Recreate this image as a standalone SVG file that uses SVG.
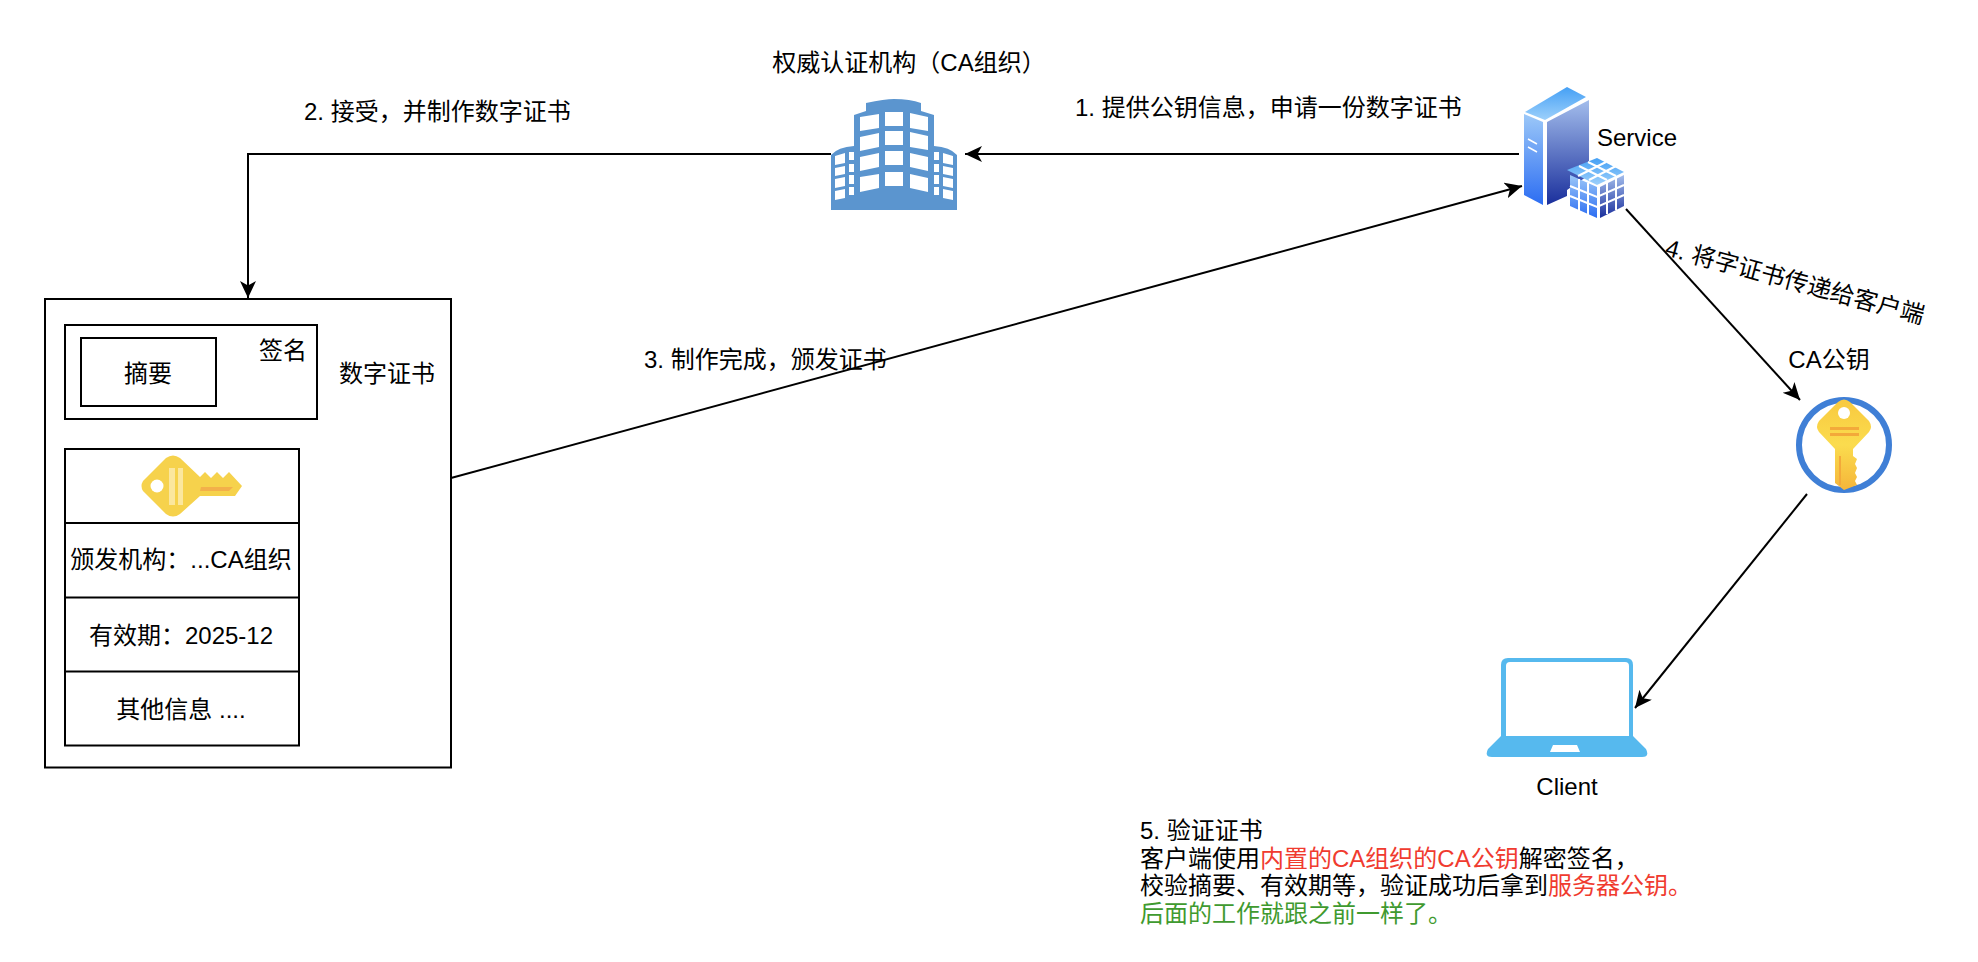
<svg xmlns="http://www.w3.org/2000/svg" width="1978" height="962" viewBox="0 0 1978 962">
<style>
text{font-family:"Liberation Sans","Noto Sans CJK SC",sans-serif;font-size:24px;fill:#000}
.m{text-anchor:middle}
.box{fill:#fff;stroke:#000;stroke-width:2}
.c{fill:none;stroke:#000;stroke-width:2;marker-end:url(#a)}
.r{fill:#f03b2f}.g{fill:#3f9a2f}
.w{fill:#fff}
</style>
<defs>
<marker id="a" markerUnits="userSpaceOnUse" markerWidth="20" markerHeight="18" refX="17" refY="8" orient="auto"><path d="M0 0L17 8L0 16L4.500 8Z" fill="#000"/></marker>
<linearGradient id="s1" x1="0" y1="0" x2="0" y2="1"><stop offset="0" stop-color="#9cc8f8"/><stop offset="1" stop-color="#2c6df2"/></linearGradient>
<linearGradient id="s2" x1="0" y1="0" x2="0" y2="1"><stop offset="0" stop-color="#a3bdec"/><stop offset="1" stop-color="#1a2f9c"/></linearGradient>
<linearGradient id="s3" x1="0" y1="1" x2="0" y2="0"><stop offset="0" stop-color="#9dd0fb"/><stop offset="1" stop-color="#45a0f5"/></linearGradient>
<linearGradient id="k" x1="0" y1="0" x2="0" y2="1"><stop offset="0" stop-color="#f8c93f"/><stop offset=".5" stop-color="#fbdc4e"/><stop offset="1" stop-color="#f5b53a"/></linearGradient>
</defs>

<g id="connectors">
<path class="c" d="M831 154H248V298"/>
<path class="c" d="M1519 154H965"/>
<path class="c" d="M451 478L1522 186"/>
<path class="c" d="M1626 209L1800 400"/>
<path class="c" d="M1807 494L1635 708"/>
</g>

<g id="ca">
<path fill="#5b95cf" d="M831 210V155Q838 147 854 146V115L866 111V103Q885 99 894 99Q910 99 921 103V111L934 115V146Q950 147 957 155V210Z"/>
<g class="w">
<path d="M860 117L879 114V128L860 131ZM885 112H903V126H885ZM910 113L928 117V131L910 128ZM860 137L879 133V147L860 151ZM885 131H903V145H885ZM910 132L928 136V150L910 147ZM860 157L879 153V167L860 171ZM885 151H903V165H885ZM910 153L928 157V171L910 167ZM860 177L879 174V188L860 192ZM885 172H903V186H885ZM910 174L928 178V192L910 188Z"/>
<path d="M835 156L845 153V163L835 165ZM849 152H854V160H849ZM835 168L845 166V174L835 176ZM849 164H854V172H849ZM835 179L845 177V186L835 188ZM849 175H854V184H849ZM835 191L845 189V198L835 200ZM849 187H854V195H849Z"/>
<path d="M953 156L943 153V163L953 165ZM939 152H934V160H939ZM953 168L943 166V174L953 176ZM939 164H934V172H939ZM953 179L943 177V186L953 188ZM939 175H934V184H939ZM953 191L943 189V198L953 200ZM939 187H934V195H939Z"/>
</g>
<text class="m" x="909" y="71">权威认证机构（CA组织）</text>
</g>

<g id="service">
<path fill="url(#s3)" d="M1525 112L1567 87L1586 97L1545 120Z"/>
<path fill="url(#s1)" d="M1524 114L1543 122V205L1524 195Z"/>
<path fill="url(#s2)" d="M1547 122L1589 100V175L1567 190V196L1547 205Z"/>
<path stroke="#fff" stroke-width="1.500" d="M1528 139L1537 144M1528 147L1537 152"/>
<g id="cube">
<path fill="url(#s3)" d="M1567 170L1597 158L1624 172L1597 185Z"/>
<path fill="url(#s1)" d="M1570 175L1597 187V218L1570 206Z"/>
<path fill="url(#s2)" d="M1600 187L1624 175V206L1600 218Z"/>
<path stroke="#fff" stroke-width="2" fill="none" d="M1579 166L1607 180M1588 162L1616 176M1589 180L1616 166M1578 176L1606 162M1579 179V212M1588 183V216M1607 183V214M1616 178V210M1570 186L1597 197L1624 185M1570 196L1597 207L1624 195"/>
</g>
<text x="1597" y="146">Service</text>
</g>

<g id="cert">
<rect class="box" x="45" y="299" width="406" height="468.500"/>
<rect class="box" x="65" y="325" width="252" height="94"/>
<rect class="box" x="81" y="338" width="135" height="68"/>
<text class="m" x="148" y="382">摘要</text>
<text class="m" x="283" y="359">签名</text>
<text class="m" x="387" y="382">数字证书</text>
<rect class="box" x="65" y="449" width="234" height="296.500"/>
<path stroke="#000" stroke-width="2" d="M65 523H299M65 597.500H299M65 671.500H299"/>
<path fill="#f6d24c" d="M143 481Q140 486 143 491L166 514Q173 519 180 514L200 496H235L242 486L229 472L223 478L217 472L211 478L205 472L200 477L180 458Q173 453 166 458Z"/>
<circle class="w" cx="157" cy="486" r="6.500"/>
<path fill="#fbe79e" d="M169 468H175V505H169ZM178 468H183V505H178Z"/>
<path fill="#f3b04a" d="M201 487H233L229 491H200Z"/>
<text class="m" x="181" y="568">颁发机构：...CA组织</text>
<text class="m" x="181" y="644">有效期：2025-12</text>
<text class="m" x="181" y="718">其他信息 ....</text>
</g>

<g id="labels">
<text x="304" y="120">2. 接受，并制作数字证书</text>
<text x="1075" y="116">1. 提供公钥信息，申请一份数字证书</text>
<text x="644" y="368">3. 制作完成，颁发证书</text>
<text transform="translate(1664 255) rotate(15)">4. 将字证书传递给客户端</text>
</g>

<g id="capub">
<circle cx="1844" cy="445" r="45" fill="#fff" stroke="#3f7fd6" stroke-width="6"/>
<path fill="url(#k)" d="M1838 402Q1844 397 1850 402L1869 421Q1873 427 1869 432L1853 449V456L1857 459L1855 464L1857 468L1855 473L1857 477L1855 481L1857 485L1844 490L1835 483V449L1819 432Q1815 427 1819 421Z"/>
<circle class="w" cx="1844" cy="413" r="6"/>
<path fill="#f3a93a" d="M1830 427H1859V430H1830ZM1830 433H1859V436H1830ZM1839 456H1841V485H1839Z"/>
<text class="m" x="1829" y="368">CA公钥</text>
</g>

<g id="client">
<path fill="#56b9ee" fill-rule="evenodd" d="M1501 736V665Q1501 658 1508 658H1626Q1633 658 1633 665V736L1646 749Q1650 757 1642 757H1492Q1484 757 1488 749ZM1506 736H1629V666Q1629 662 1625 662H1510Q1506 662 1506 666ZM1553 745L1550 752H1580L1577 745Z"/>
<text class="m" x="1567" y="795">Client</text>
</g>

<g id="note">
<text x="1140" y="839">5. 验证证书</text>
<text x="1140" y="867">客户端使用<tspan class="r">内置的CA组织的CA公钥</tspan>解密签名，</text>
<text x="1140" y="894">校验摘要、有效期等，验证成功后拿到<tspan class="r">服务器公钥。</tspan></text>
<text x="1140" y="922" class="g">后面的工作就跟之前一样了。</text>
</g>
</svg>
